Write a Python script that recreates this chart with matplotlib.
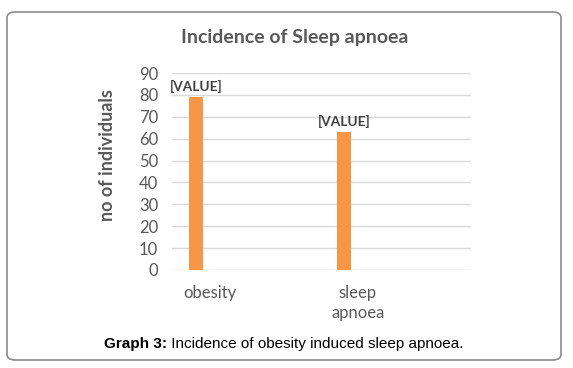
import matplotlib
matplotlib.use("Agg")
import matplotlib.pyplot as plt
from matplotlib.patches import FancyBboxPatch

categories = ["obesity", "sleep\napnoea"]
values = [79, 63]
bar_labels = ["[VALUE]", "[VALUE]"]
yticks = [0, 10, 20, 30, 40, 50, 60, 70, 80, 90]

grey = "#595959"
orange = "#F79646"

plt.rcParams['font.family'] = ['Lato', 'DejaVu Sans']

fig = plt.figure(figsize=(5.73, 3.68), dpi=100)
ax = fig.add_axes([172/573, 1-270/368, (471-172)/573, (270-73)/368])

xpos = [i - 0.095 for i in range(len(categories))]
ax.bar(xpos, values, width=0.1, color=orange, zorder=3)
for x, v, lab in zip(xpos, values, bar_labels):
    ax.annotate(lab, (x, v), xytext=(0, 3), textcoords="offset points",
                ha="center", va="bottom", fontsize=9.8, fontweight="bold", color="#404040")

ax.set_xlim(-0.257, 1.764)
ax.set_ylim(0, 90)
ax.set_yticks(yticks)
ax.set_yticklabels([str(t) for t in yticks])
ax.set_xticks(range(len(categories)))
ax.set_xticklabels(categories, linespacing=1.3)
ax.grid(axis="y", color="#d9d9d9", linewidth=1, zorder=0)
for s in ax.spines.values():
    s.set_visible(False)
ax.tick_params(axis="both", length=0, labelsize=12, colors=grey)
ax.tick_params(axis="y", pad=10)
ax.tick_params(axis="x", pad=11)
ax.set_ylabel("no of individuals", fontsize=13, fontweight="bold", color=grey)
ax.yaxis.set_label_coords(-0.187, 0.584)

fig.text(295/573, 1-38/368, "Incidence of Sleep apnoea", ha="center", va="center",
         fontsize=14, fontweight="bold", color=grey)

border = FancyBboxPatch((7/573, 1-360/368), (561-7)/573, (360-12)/368,
                        boxstyle="round,pad=0,rounding_size=0.015",
                        transform=fig.transFigure, facecolor="none",
                        edgecolor="#8a8a8a", linewidth=1.2)
fig.patches.append(border)

t1 = fig.text(104/573, 1-344/368, "Graph 3:", ha="left", va="center",
              fontsize=11, fontweight="bold", color="black", family="Liberation Sans")
ax.annotate(" Incidence of obesity induced sleep apnoea.", xy=(1, 0), xycoords=t1,
            ha="left", va="bottom", fontsize=11, color="black", family="Liberation Sans",
            annotation_clip=False)

fig.savefig("out.png", dpi=100)
